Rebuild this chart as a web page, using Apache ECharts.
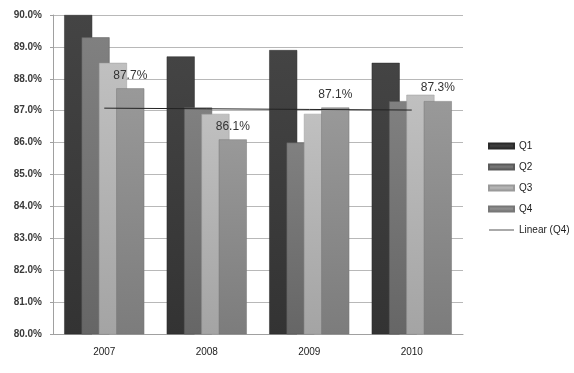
<!DOCTYPE html>
<html><head><meta charset="utf-8">
<script src="https://cdn.jsdelivr.net/npm/echarts@6/dist/echarts.min.js"></script>
<style>html,body{margin:0;padding:0;background:#fff}#c{width:574px;height:373px}</style>
</head><body><div id="c"></div>
<script>
const categories = ['2007', '2008', '2009', '2010'];
const q1 = [90.0, 88.7, 88.9, 88.5];
const q2 = [89.3, 87.1, 86.0, 87.3];
const q3 = [88.5, 86.9, 86.9, 87.5];
const q4 = [87.7, 86.1, 87.1, 87.3];
const yTicks = [80, 81, 82, 83, 84, 85, 86, 87, 88, 89, 90];

// Excel-style linear trendline of Q4 (least squares fit)
const n = q4.length;
const xs = q4.map((_, i) => i + 1);
const mx = xs.reduce((a, b) => a + b, 0) / n;
const my = q4.reduce((a, b) => a + b, 0) / n;
let sxy = 0, sxx = 0;
xs.forEach((x, i) => { sxy += (x - mx) * (q4[i] - my); sxx += (x - mx) * (x - mx); });
const slope = sxy / sxx, icpt = my - slope * mx;
const trend = xs.map(x => +(icpt + slope * x).toFixed(4));

function grad(top, bottom) {
  return { type: 'linear', x: 0, y: 0, x2: 0, y2: 1, colorStops: [{ offset: 0, color: top }, { offset: 1, color: bottom }] };
}
const barCommon = { type: 'bar', barWidth: 28, barGap: '-38%', z: 2 };
const chart = echarts.init(document.getElementById('c'), null, { renderer: 'canvas' });
chart.setOption({
  animation: false,
  grid: { left: 53, right: 111, top: 15, bottom: 39 },
  legend: {
    orient: 'vertical', left: 483, top: 136, itemWidth: 25, itemHeight: 5, itemGap: 11,
    textStyle: { fontFamily: 'Liberation Sans', fontSize: 10, color: '#222' },
    data: [
      { name: 'Q1', icon: 'rect' }, { name: 'Q2', icon: 'rect' }, { name: 'Q3', icon: 'rect' }, { name: 'Q4', icon: 'rect' },
      { name: 'Linear (Q4)', icon: 'path://M0,0 L25,0 L25,1 L0,1 Z' }
    ]
  },
  xAxis: {
    type: 'category', data: categories,
    axisLine: { lineStyle: { color: '#a0a0a0' } },
    axisTick: { show: false },
    axisLabel: { fontFamily: 'Liberation Sans', fontSize: 10, color: '#222', margin: 13 }
  },
  yAxis: {
    type: 'value', min: 80, max: 90, interval: 1,
    axisLine: { show: true, lineStyle: { color: '#a0a0a0' } },
    axisTick: { show: true, length: 3, lineStyle: { color: '#a0a0a0' } },
    splitLine: { lineStyle: { color: '#b8b8b8' } },
    axisLabel: { fontFamily: 'Liberation Sans', fontSize: 10, fontWeight: 'bold', color: '#3a3a3a', margin: 11,
      formatter: v => yTicks.includes(v) ? v.toFixed(1) + '%' : '' }
  },
  series: [
    Object.assign({}, barCommon, { name: 'Q1', data: q1, itemStyle: { color: grad('#444444', '#333333'), borderColor: '#2a2a2a', borderWidth: 0.5 } }),
    Object.assign({}, barCommon, { name: 'Q2', data: q2, itemStyle: { color: grad('#808080', '#666666'), borderColor: '#5a5a5a', borderWidth: 0.5 } }),
    Object.assign({}, barCommon, { name: 'Q3', data: q3, itemStyle: { color: grad('#c0c0c0', '#a4a4a4'), borderColor: '#9a9a9a', borderWidth: 0.5 } }),
    Object.assign({}, barCommon, { name: 'Q4', data: q4, itemStyle: { color: grad('#999999', '#7c7c7c'), borderColor: '#777777', borderWidth: 0.5 },
      label: { show: true, position: 'top', distance: 7, fontFamily: 'Liberation Sans', fontSize: 12, color: '#333',
        formatter: p => p.value.toFixed(1) + '%' } }),
    { name: 'Linear (Q4)', type: 'line', data: trend, symbol: 'none', z: 5,
      lineStyle: { color: '#222', width: 1 }, itemStyle: { color: '#555' } }
  ]
});
</script></body></html>
